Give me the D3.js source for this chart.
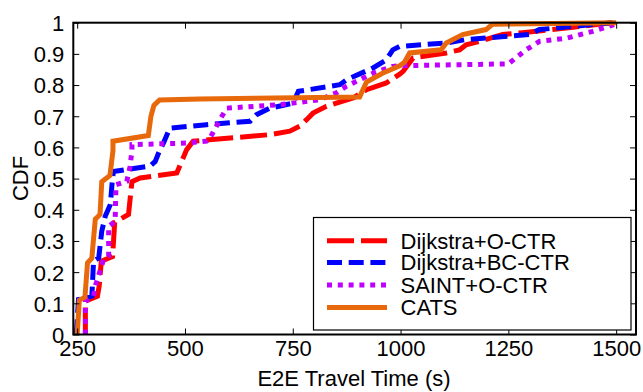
<!DOCTYPE html>
<html><head><meta charset="utf-8">
<script src="https://cdn.jsdelivr.net/npm/d3@7"></script>
<style>
html,body{margin:0;padding:0;background:#fff;}
svg text{font-family:"Liberation Sans",Arial,Helvetica,sans-serif;fill:#000;}
</style></head>
<body>
<svg id="chart" width="643" height="392"></svg>
<script>
// ---- data ----
const seriesNames = ["Dijkstra+O-CTR", "Dijkstra+BC-CTR", "SAINT+O-CTR", "CATS"];
const dijkstraOctrX = [269,269,297,301,306,332,337,369,377,396,481,504,519,697,743,766,782,797,828,890,921,967,998,1006,1029,1106,1137,1152,1183,1206,1237,1283,1400,1490];
const dijkstraOctrY = [0,0.107,0.123,0.155,0.235,0.25,0.36,0.385,0.49,0.502,0.518,0.593,0.62,0.641,0.652,0.668,0.689,0.71,0.732,0.759,0.785,0.807,0.835,0.844,0.887,0.903,0.913,0.929,0.94,0.95,0.962,0.968,0.985,1.0];
const dijkstraBcX = [248,253,284,288,300,307,315,327,331,334,419,431,442,450,465,550,651,666,697,751,763,859,875,936,967,982,998,1106,1152,1299,1322,1384,1492];
const dijkstraBcY = [0,0.112,0.123,0.235,0.246,0.331,0.379,0.417,0.486,0.523,0.54,0.555,0.593,0.614,0.662,0.673,0.684,0.705,0.726,0.742,0.78,0.801,0.817,0.855,0.881,0.913,0.924,0.935,0.946,0.962,0.978,0.986,1.0];
const saintOctrX = [269,269,288,293,311,323,323,338,340,365,373,377,377,504,550,558,581,597,720,813,851,874,905,936,982,998,1250,1291,1322,1384,1445,1497];
const saintOctrY = [0,0.107,0.123,0.16,0.24,0.251,0.347,0.363,0.48,0.491,0.54,0.593,0.609,0.614,0.62,0.63,0.689,0.726,0.737,0.753,0.775,0.796,0.817,0.838,0.86,0.862,0.868,0.913,0.94,0.95,0.972,0.995];
const catsX = [250,255,268,274,284,292,303,307,326,333,333,415,421,428,441,535,905,921,958,998,1009,1021,1094,1106,1144,1198,1213,1500];
const catsY = [0,0.11,0.12,0.23,0.245,0.37,0.385,0.49,0.51,0.59,0.62,0.638,0.70,0.735,0.752,0.755,0.762,0.81,0.838,0.862,0.873,0.903,0.913,0.935,0.962,0.978,0.995,1.0];
const xTicks = [250, 500, 750, 1000, 1250, 1500];
const yTicks = [0,0.1,0.2,0.3,0.4,0.5,0.6,0.7,0.8,0.9,1];
const yTickLabels = ["0","0.1","0.2","0.3","0.4","0.5","0.6","0.7","0.8","0.9","1"];
const xTitle = "E2E Travel Time (s)";
const yTitle = "CDF";

// ---- styles ----
const styles = [
  {color:"#ff0000", dash:"27,7"},
  {color:"#0000ff", dash:"15,6.7"},
  {color:"#c000ff", dash:"5,5.8"},
  {color:"#e8690b", dash:null}
];
const seriesXY = [[dijkstraOctrX,dijkstraOctrY],[dijkstraBcX,dijkstraBcY],[saintOctrX,saintOctrY],[catsX,catsY]];

const L = 73.3, R = 636, T = 22.7, B = 334.5;
const svg = d3.select("#chart");
const x = d3.scaleLinear().domain([241, 1546]).range([L, R]);
const y = d3.scaleLinear().domain([0, 1]).range([B, T]);
const FS = 22;

// lines
const line = d3.line().x(d => x(d[0])).y(d => y(d[1]));
const plot = svg.append("g");
seriesXY.forEach((s, i) => {
  const pts = s[0].map((v, j) => [v, s[1][j]]);
  plot.append("path").datum(pts)
    .attr("d", line).attr("fill", "none")
    .attr("stroke", styles[i].color).attr("stroke-width", 5)
    .attr("stroke-linejoin", "miter")
    .attr("stroke-dasharray", styles[i].dash);
});

// axes: ticks inside, mirrored
const tk = 6;
const gB = svg.append("g").attr("transform", `translate(0,${B})`)
  .call(d3.axisBottom(x).tickValues(xTicks).tickSizeInner(-tk).tickSizeOuter(0).tickPadding(10).tickFormat(d3.format("d")));
const gT = svg.append("g").attr("transform", `translate(0,${T})`)
  .call(d3.axisTop(x).tickValues(xTicks).tickSizeInner(-tk).tickSizeOuter(0).tickFormat(""));
const gL = svg.append("g").attr("transform", `translate(${L},0)`)
  .call(d3.axisLeft(y).tickValues(yTicks).tickSizeInner(-tk).tickSizeOuter(0).tickPadding(9).tickFormat((d, i) => yTickLabels[i]));
const gR = svg.append("g").attr("transform", `translate(${R},0)`)
  .call(d3.axisRight(y).tickValues(yTicks).tickSizeInner(-tk).tickSizeOuter(0).tickFormat(""));
[gB, gT, gL, gR].forEach(g => {
  g.select(".domain").remove();
  g.selectAll(".tick line").attr("stroke", "#000").attr("stroke-width", 1);
  g.selectAll("text").attr("font-size", FS).attr("font-family", "Liberation Sans, Arial, sans-serif").attr("fill", "#000");
});
gB.selectAll("text").attr("dy", null).attr("y", 21);
gL.selectAll("text").attr("dy", "0.36em");

// frame
svg.append("rect").attr("x", L).attr("y", T).attr("width", R - L).attr("height", B - T)
  .attr("fill", "none").attr("stroke", "#000").attr("stroke-width", 2);

// titles
svg.append("text").attr("x", 354).attr("y", 386).attr("text-anchor", "middle")
  .attr("font-size", FS).text(xTitle);
svg.append("text").attr("transform", "translate(28,178.5) rotate(-90)").attr("text-anchor", "middle")
  .attr("font-size", FS).text(yTitle);

// legend
const lg = svg.append("g");
lg.append("rect").attr("x", 313.5).attr("y", 217.5).attr("width", 631 - 313.5).attr("height", 330 - 217.5)
  .attr("fill", "#fff").attr("stroke", "#000").attr("stroke-width", 1.2);
const rowY = [240.7, 262.5, 285, 307.5];
seriesNames.forEach((name, i) => {
  lg.append("line").attr("x1", 327).attr("x2", 387).attr("y1", rowY[i]).attr("y2", rowY[i])
    .attr("stroke", styles[i].color).attr("stroke-width", 5).attr("stroke-dasharray", styles[i].dash);
  lg.append("text").attr("x", 400.5).attr("y", rowY[i]).attr("dy", "0.36em")
    .attr("font-size", FS).text(name);
});
</script>
</body></html>
